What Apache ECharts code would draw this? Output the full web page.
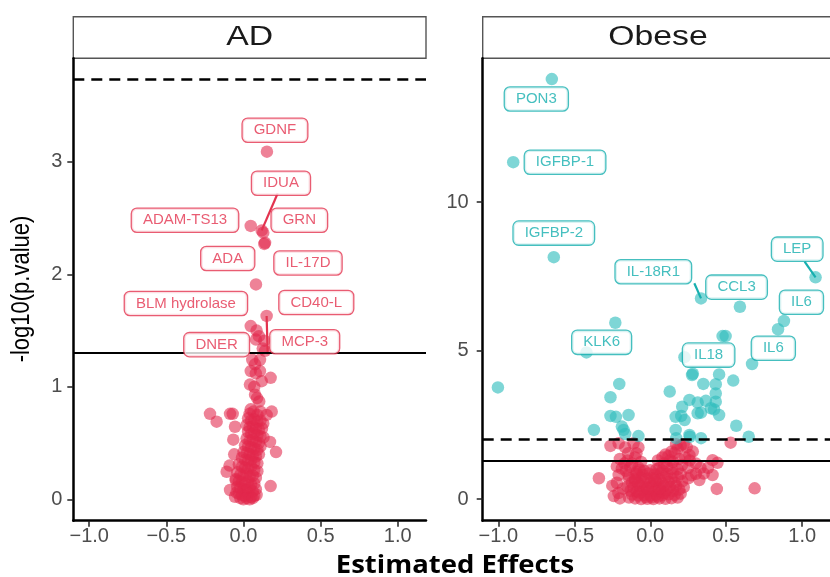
<!DOCTYPE html>
<html>
<head>
<meta charset="utf-8">
<script src="https://cdn.jsdelivr.net/npm/echarts@6/dist/echarts.min.js"></script>
<style>
  html, body { margin: 0; padding: 0; background: #fff; }
  #chart { width: 830px; height: 577px; }
</style>
</head>
<body>
<div id="chart"></div>
<script>
// x tick values, shared by both panels
const xTicks = [-1, -0.5, 0, 0.5, 1];
const adYTicks = [0, 1, 2, 3];
const obYTicks = [0, 5, 10];

// thresholds: -log10(0.05) and the corrected cut-off of each panel
const nominalLine = 1.301;
const adSigLine = 3.73;
const obSigLine = 2.0;

// AD: [estimated effect, -log10(p)]
const adPoints = [
  [0.152,3.09],[0.118,2.39],[0.128,2.37],[0.047,2.43],[0.135,2.27],[0.140,2.28],[0.081,1.91],[0.150,1.63],
  [0.047,1.54],[0.085,1.50],[0.081,1.42],[0.135,1.41],[0.125,1.34],[0.100,1.45],[0.140,1.32],
  [0.057,1.24],[0.107,1.24],[0.075,1.20],[0.047,1.14],[0.107,1.14],[0.080,1.12],[0.176,1.08],[0.042,1.02],
  [0.118,1.05],[0.070,1.00],[0.075,0.93],[0.102,0.87],[0.088,0.90],[0.047,0.80],[0.065,0.78],[0.040,0.76],
  [0.090,0.75],[0.110,0.78],
  [-0.217,0.76],[-0.174,0.69],[-0.087,0.76],[-0.070,0.76],[-0.055,0.645],[-0.066,0.53],[0.183,0.78],
  [0.150,0.75],[0.128,0.675],[0.172,0.51],[0.211,0.42],[0.176,0.118],[-0.109,0.245],[-0.087,0.083],
  [-0.055,0.023],[-0.090,0.30],[-0.060,0.40],[-0.050,0.18],
  [0.03,0.72],[0.05,0.70],[0.07,0.71],[0.09,0.69],[0.11,0.70],[0.02,0.66],[0.04,0.64],[0.06,0.65],
  [0.08,0.63],[0.10,0.62],[0.12,0.63],[0.03,0.60],[0.05,0.58],[0.07,0.59],[0.09,0.57],[0.11,0.56],
  [0.02,0.54],[0.04,0.52],[0.06,0.53],[0.08,0.51],[0.10,0.50],[0.13,0.55],[0.01,0.48],[0.03,0.47],
  [0.05,0.46],[0.07,0.45],[0.09,0.44],[0.11,0.47],
  [0.00,0.42],[0.02,0.41],[0.04,0.40],[0.06,0.39],[0.08,0.38],[0.10,0.40],[-0.01,0.37],[0.01,0.35],
  [0.03,0.34],[0.05,0.35],[0.07,0.33],[0.09,0.32],[-0.03,0.31],[-0.01,0.29],[0.01,0.28],[0.03,0.27],
  [0.05,0.29],[0.07,0.26],[0.09,0.25],[-0.04,0.24],[-0.02,0.22],[0.00,0.21],[0.02,0.23],[0.04,0.20],
  [0.06,0.21],[0.08,0.19],[-0.05,0.17],[-0.03,0.16],[-0.01,0.15],[0.01,0.14],[0.03,0.16],[0.05,0.13],
  [0.07,0.14],[-0.04,0.11],[-0.02,0.10],[0.00,0.09],[0.02,0.08],[0.04,0.10],[0.06,0.07],[0.08,0.09],
  [-0.03,0.05],[-0.01,0.04],[0.01,0.03],[0.03,0.05],[0.05,0.02],[0.07,0.03],[-0.02,0.01],[0.00,0.00],
  [0.02,0.01],[0.04,0.00],[0.06,0.01],[-0.045,0.06],[0.085,0.04]
];

// Obese: [estimated effect, -log10(p)]
const obPoints = [
  [-0.648,14.15],[-0.902,11.35],[-0.635,8.15],[1.088,7.47],[0.334,6.76],[0.59,6.48],[0.88,6.0],[0.841,5.72],
  [0.67,4.55],[0.496,5.49],[0.476,5.49],[0.225,4.78],[-0.42,4.94],[-0.23,5.94],
  [-1.003,3.76],[-0.204,3.88],[-0.262,3.43],[-0.262,2.80],[-0.226,2.77],[-0.143,2.83],[-0.371,2.33],
  [-0.176,2.33],[-0.165,2.19],[-0.078,2.12],[-0.187,2.44],
  [0.128,3.62],[0.21,3.11],[0.258,3.34],[0.312,3.25],[0.366,3.31],[0.167,2.77],[0.204,2.80],[0.226,2.66],
  [0.312,2.89],[0.334,2.91],[0.399,3.06],[0.42,3.02],[0.453,2.83],[0.431,3.28],[0.431,3.56],[0.431,3.87],
  [0.349,3.88],[0.453,4.20],[0.546,3.99],[0.275,4.18],[0.28,4.22],[0.566,2.47],[0.648,2.10],[0.334,2.05],
  [0.167,2.33],[0.171,2.05],[0.258,2.16],[0.26,2.10],
  [-0.262,1.79],[-0.208,1.88],[-0.165,1.74],[-0.11,1.88],[-0.078,1.74],[-0.146,1.54],[-0.091,1.54],
  [-0.187,1.03],[-0.132,1.09],[-0.078,1.06],[-0.208,0.81],[-0.143,0.81],[-0.20,1.35],[-0.15,1.30],
  [-0.10,1.40],[-0.17,1.20],[-0.12,1.20],[-0.22,1.10],[-0.06,1.25],[-0.04,0.95],[-0.09,0.90],[-0.16,0.95],
  [0.05,1.30],[0.08,1.40],[0.10,1.50],[0.12,1.45],[0.14,1.60],[0.16,1.55],[0.18,1.70],[0.20,1.80],
  [0.22,1.85],[0.24,1.75],[0.17,1.85],[0.13,1.30],[0.09,1.20],[0.11,1.10],[0.15,1.25],[0.19,1.35],
  [0.23,1.40],[0.26,1.30],[0.28,1.60],[0.30,1.20],[0.06,1.05],[0.21,1.15],[0.25,1.05],[0.33,1.05],
  [0.18,1.00],[0.258,1.48],
  [0.41,1.31],[0.442,1.22],[0.41,0.81],[0.352,0.86],[0.323,0.64],[0.438,0.34],[0.687,0.36],[0.529,1.90],
  [0.30,0.85],[0.38,1.05],
  [-0.338,0.70],[-0.25,0.45],[-0.21,0.20],[-0.20,0.02],[-0.24,0.10],[-0.18,0.35],[-0.22,0.55],
  [-0.14,0.05],[-0.10,0.02],[-0.06,0.00],[-0.02,0.01],[0.02,0.00],[0.06,0.02],[0.10,0.01],[0.14,0.03],[0.18,0.05],
  [-0.12,0.15],[-0.08,0.12],[-0.04,0.14],[0.00,0.12],[0.04,0.15],[0.08,0.13],[0.12,0.16],[0.16,0.14],[0.20,0.18],
  [-0.13,0.28],[-0.09,0.26],[-0.05,0.30],[-0.01,0.27],[0.03,0.29],[0.07,0.26],[0.11,0.30],[0.15,0.28],[0.19,0.32],
  [-0.15,0.42],[-0.11,0.40],[-0.07,0.44],[-0.03,0.41],[0.01,0.43],[0.05,0.40],[0.09,0.44],[0.13,0.41],[0.17,0.45],[0.22,0.40],
  [-0.12,0.56],[-0.08,0.54],[-0.04,0.58],[0.00,0.55],[0.04,0.57],[0.08,0.53],[0.12,0.58],[0.16,0.55],[0.21,0.60],
  [-0.14,0.70],[-0.10,0.68],[-0.06,0.72],[-0.02,0.69],[0.02,0.71],[0.06,0.67],[0.10,0.72],[0.14,0.69],[0.18,0.74],[0.25,0.70],
  [-0.09,0.84],[-0.05,0.82],[-0.01,0.86],[0.03,0.83],[0.07,0.87],[0.11,0.84],[0.15,0.88],[0.20,0.85],[0.27,0.80],
  [-0.07,0.98],[0.00,0.97],[0.04,1.00],[0.08,0.96],[0.14,1.02],
  [-0.03,0.07],[0.01,0.06],[0.05,0.08],[-0.07,0.22],[0.09,0.20],[-0.02,0.36],[0.06,0.35],[-0.10,0.62],[0.03,0.64]
];

// repelled gene labels: name and where the box sits (data units)
const adLabelNames = ['GDNF', 'IDUA', 'ADAM-TS13', 'GRN', 'ADA', 'IL-17D', 'BLM hydrolase', 'CD40-L', 'DNER', 'MCP-3'];
const adLabelPos = [[0.204,3.28],[0.243,2.81],[-0.379,2.48],[0.362,2.48],[-0.102,2.14],[0.418,2.10],[-0.373,1.74],[0.472,1.75],[-0.174,1.375],[0.397,1.40]];
const adSegments = [[[0.118,2.39],[0.222,2.72]], [[0.150,1.63],[0.157,1.29]]];

const obLabelNames = ['PON3', 'IGFBP-1', 'IGFBP-2', 'LEP', 'IL-18R1', 'CCL3', 'IL6', 'IL6', 'IL18', 'KLK6'];
const obLabelPos = [[-0.75,13.48],[-0.561,11.35],[-0.635,8.96],[0.967,8.42],[0.02,7.66],[0.568,7.14],[0.995,6.63],[0.81,5.08],[0.384,4.85],[-0.32,5.28]];
const obSegments = [[[1.088,7.47],[1.016,8.0]], [[0.334,6.76],[0.29,7.27]]];

const RED = '#E1284B';
const CYAN = '#2EBDBD';
const RED_TXT = '#E3334F';
const CYAN_TXT = '#17AFAF';

const chart = echarts.init(document.getElementById('chart'));

const gridTop = 58.3, gridH = 462.4, gridW = 352.7;
const fmtX = v => (v < 0 ? '\u2212' : '') + Math.abs(v).toFixed(1);

function xAxisFor(i) {
  return {
    type: 'value', gridIndex: i, min: -1.103, max: 1.183,
    axisLine: { onZero: false, lineStyle: { color: '#000', width: 2.5 } },
    axisTick: { customValues: xTicks, length: 6, lineStyle: { color: '#222', width: 1.5 } },
    axisLabel: { customValues: xTicks, formatter: fmtX, color: '#4D4D4D', fontSize: 20, fontFamily: 'Liberation Sans', margin: 6 },
    splitLine: { show: false }
  };
}
function yAxisFor(i, min, max, ticks, margin) {
  return {
    type: 'value', gridIndex: i, min: min, max: max,
    axisLine: { show: true, onZero: false, lineStyle: { color: '#000', width: 2.5 } },
    axisTick: { show: true, customValues: ticks, length: 6, lineStyle: { color: '#222', width: 1.5 } },
    axisLabel: { customValues: ticks, color: '#4D4D4D', fontSize: 20, fontFamily: 'Liberation Sans', margin: margin },
    splitLine: { show: false }
  };
}

function panelSeries(i, points, sigLine, labelNames, labelPos, segments, txtColor) {
  const below = points.filter(p => p[1] < sigLine);
  const above = points.filter(p => p[1] >= sigLine);
  const dot = { symbol: 'circle', symbolSize: 12.5, silent: true, xAxisIndex: i, yAxisIndex: i };
  return [
    Object.assign({ type: 'scatter', data: below, itemStyle: { color: RED, opacity: 0.58 }, z: 2 }, dot),
    Object.assign({ type: 'scatter', data: above, itemStyle: { color: CYAN, opacity: 0.62 }, z: 2 }, dot),
    {
      type: 'scatter', xAxisIndex: i, yAxisIndex: i, data: [], silent: true, z: 3,
      markLine: {
        silent: true, symbol: 'none', label: { show: false }, animation: false,
        data: [
          { yAxis: nominalLine, lineStyle: { type: 'solid', color: '#000', width: 2 } },
          { yAxis: sigLine, lineStyle: { type: [11, 7], color: '#000', width: 2.5 } }
        ]
      }
    },
    {
      type: 'lines', coordinateSystem: 'cartesian2d', xAxisIndex: i, yAxisIndex: i, silent: true, z: 4,
      data: segments.map(s => ({ coords: s })),
      lineStyle: { color: txtColor, width: 2.2, opacity: 1 }
    },
    {
      type: 'scatter', xAxisIndex: i, yAxisIndex: i, silent: true, z: 5,
      symbolSize: 1, itemStyle: { color: 'rgba(0,0,0,0)' },
      data: labelPos.map((p, k) => ({ value: p, name: labelNames[k] })),
      label: {
        show: true, position: 'inside', formatter: '{b}', color: txtColor,
        fontSize: 15, fontFamily: 'Liberation Sans', lineHeight: 15,
        backgroundColor: '#fff', borderColor: txtColor, borderWidth: 1.3, borderRadius: 5,
        padding: [4, 11, 4, 11]
      }
    }
  ];
}

const option = {
  animation: false,
  backgroundColor: '#fff',
  grid: [
    { left: 73.3, top: gridTop, width: gridW, height: gridH },
    { left: 482.7, top: gridTop, width: gridW, height: gridH }
  ],
  xAxis: [xAxisFor(0), xAxisFor(1)],
  yAxis: [
    yAxisFor(0, -0.19, 3.92, adYTicks, 11),
    yAxisFor(1, -0.73, 14.85, obYTicks, 14)
  ],
  series: [].concat(
    panelSeries(0, adPoints, adSigLine, adLabelNames, adLabelPos, adSegments, RED_TXT),
    panelSeries(1, obPoints, obSigLine, obLabelNames, obLabelPos, obSegments, CYAN_TXT)
  ),
  graphic: [
    { type: 'rect', shape: { x: 73.3, y: 16.7, width: gridW, height: 41.6 }, style: { fill: '#fff', stroke: '#555', lineWidth: 1.4 } },
    { type: 'text', x: 249.7, y: 38, scaleX: 1.25, style: { text: 'AD', font: '27px "Liberation Sans"', textAlign: 'center', textVerticalAlign: 'middle', fill: '#1A1A1A' } },
    { type: 'rect', shape: { x: 482.7, y: 16.7, width: gridW, height: 41.6 }, style: { fill: '#fff', stroke: '#555', lineWidth: 1.4 } },
    { type: 'text', x: 658, y: 38, scaleX: 1.25, style: { text: 'Obese', font: '27px "Liberation Sans"', textAlign: 'center', textVerticalAlign: 'middle', fill: '#1A1A1A' } },
    { type: 'text', x: 22, y: 289, rotation: Math.PI / 2, scaleY: 1.15, style: { text: '-log10(p.value)', font: '22px "Liberation Sans"', textAlign: 'center', textVerticalAlign: 'middle', fill: '#000' } },
    { type: 'text', x: 455, y: 566, scaleX: 1.1, style: { text: 'Estimated Effects', font: 'bold 25px "Open Sans"', textAlign: 'center', textVerticalAlign: 'middle', fill: '#000' } }
  ]
};

chart.setOption(option);
</script>
</body>
</html>
